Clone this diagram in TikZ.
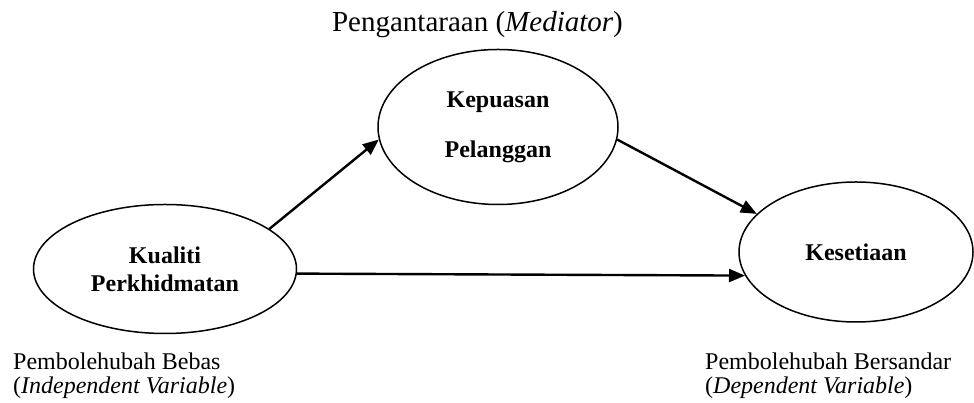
\documentclass[tikz,border=0pt]{standalone}
\usepackage{fontspec}
\setmainfont{Liberation Serif}
\usetikzlibrary{shapes,arrows.meta,positioning}

\begin{document}
\begin{tikzpicture}[x=1pt,y=1pt]
            \useasboundingbox (0,0) rectangle (974,403);
            \begin{scope}[var/.style={ellipse, draw=black, line width=1.5pt, inner sep=0pt, align=center, font=\fontsize{24}{28}\selectfont\bfseries}]
                \node(kual) at (165,134) [var, minimum width=263pt, minimum height=129pt]{Kualiti\\Perkhidmatan};
                \node(kep) at (498,276) [var, minimum width=240pt, minimum height=155pt]{Kepuasan\\[22pt]Pelanggan};
                \node(kes) at (856,151) [var, minimum width=234pt, minimum height=140pt]{Kesetiaan};
            \end{scope}
            %%%
            \begin{scope}[lbl/.style={inner sep=0pt, align=left, font=\fontsize{24}{24}\selectfont}]
                \node(med) at (477.5,371) [anchor=base, inner sep=0pt, font=\fontsize{29}{34}\selectfont]{Pengantaraan (\textit{Mediator})};
                \node(bebas) at (13,50) [lbl, anchor=north west]{Pembolehubah Bebas\\(\textit{Independent Variable})};
                \node(sandar) at (705,50) [lbl, anchor=north west]{Pembolehubah Bersandar\\(\textit{Dependent Variable})};
            \end{scope}
            %
            \draw[line width=2.4pt, -{Triangle[length=16pt,width=13pt]}] (kual.21.9) -- (kep.186.7);
            \draw[line width=2.4pt, -{Triangle[length=16pt,width=13pt]}] (kep.-6.8) -- (kes.159.3);
            \draw[line width=2.4pt, -{Triangle[length=16pt,width=13pt]}] (kual.-2.6) -- (kes.192.7);
        \end{tikzpicture}
\end{document}
